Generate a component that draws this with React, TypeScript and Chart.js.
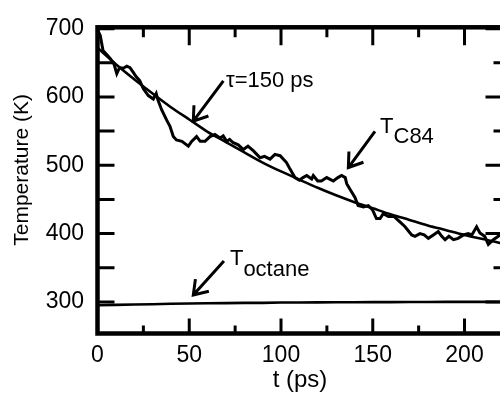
import React, { useEffect, useRef } from "react";
import { Chart, registerables } from "chart.js";

Chart.register(...registerables);

// T_C84 (noisy simulation trace)
const c84Time = [0, 1.5, 3, 5, 7, 9, 10.5, 12, 14, 16, 17.7, 19.5, 21, 23, 25, 27.7, 30.4, 32, 33, 35, 37.7, 39.5, 41.3, 43, 46, 49.5, 51.3, 54, 56, 58.6, 61.3, 64, 66.8, 68.5, 70.4, 72, 74, 76.7, 79.5, 82, 85, 88.6, 91, 94, 96.7, 99.5, 103, 105, 107.6, 110, 112, 114, 116.7, 117.6, 120, 122, 124.9, 128.5, 131, 133, 135, 135.8, 137.6, 138.5, 140.3, 142, 144.9, 147.6, 150, 152, 154, 155.7, 158.5, 161.5, 164.8, 167.6, 171.2, 173, 175.7, 178, 180.3, 183, 185.7, 187.6, 189.4, 191.5, 194, 196.5, 199.4, 202, 204, 206.6, 208.4, 211, 213, 215.7, 218.4, 221];
const c84Temp = [698, 690, 668, 662, 656, 648, 634, 643, 642, 645, 643, 636, 630, 624, 612, 602, 597, 605, 595, 581, 566, 557, 542, 537, 535, 528, 535, 542, 535, 535, 542, 545, 540, 543, 535, 538, 533, 530, 523, 528, 521, 511, 513, 509, 516, 514, 504, 494, 482, 478, 482, 485, 480, 485, 477, 477, 482, 477, 482, 485, 482, 473, 465, 461, 453, 441, 439, 441, 434, 422, 422, 429, 425, 425, 417, 410, 398, 396, 400, 398, 393, 398, 403, 396, 391, 396, 391, 393, 398, 400, 398, 410, 401, 396, 384, 391, 396, 400];

// exponential fit, tau = 150 ps
const fitTime = [0, 10, 20, 30, 40, 50, 60, 70, 80, 90, 100, 110, 120, 130, 140, 150, 160, 170, 180, 190, 200, 210, 220, 221];
const fitTemp = [672, 648, 626, 605, 585, 567, 549, 534, 519, 504, 491, 479, 467, 456, 446, 437, 428, 420, 412, 405, 398, 392, 386, 385.5];

// T_octane
const octaneTime = [0, 10, 20, 30, 40, 50, 60, 70, 80, 90, 100, 110, 120, 130, 140, 150, 160, 170, 180, 190, 200, 210, 221];
const octaneTemp = [295, 295.6, 296.2, 296.6, 297.2, 297.6, 298, 298.2, 298.6, 298.6, 299, 299, 299.2, 299.4, 299.4, 299.6, 299.6, 299.8, 299.8, 300, 300, 300, 300];

const xTickValues = [0, 50, 100, 150, 200];
const xMinorValues = [25, 75, 125, 175];
const yTickValues = [300, 400, 500, 600, 700];
const yMinorValues = [350, 450, 550, 650];

const FONT = '"Liberation Sans", Arial, Helvetica, sans-serif';

function pts(xs: number[], ys: number[]) {
  return xs.map((x, i) => ({ x, y: ys[i] }));
}

export default function App() {
  const ref = useRef<HTMLCanvasElement>(null);

  useEffect(() => {
    const canvas = ref.current;
    if (!canvas) return;

    const framePlugin = {
      id: "frameAndNotes",
      afterDraw(chart: any) {
        const { ctx, chartArea: a, scales } = chart;
        const xs = scales.x;
        const ys = scales.y;
        ctx.save();
        ctx.strokeStyle = "#000";
        ctx.fillStyle = "#000";
        ctx.lineCap = "butt";

        // inward ticks
        ctx.lineWidth = 3;
        ctx.beginPath();
        const seg = (x1: number, y1: number, x2: number, y2: number) => {
          ctx.moveTo(x1, y1);
          ctx.lineTo(x2, y2);
        };
        xTickValues.forEach((v) => {
          const p = xs.getPixelForValue(v);
          seg(p, a.bottom, p, a.bottom - 15);
          seg(p, a.top, p, a.top + 18);
        });
        xMinorValues.forEach((v) => {
          const p = xs.getPixelForValue(v);
          seg(p, a.bottom, p, a.bottom - 8);
          seg(p, a.top, p, a.top + 10);
        });
        yTickValues.forEach((v) => {
          const p = ys.getPixelForValue(v);
          seg(a.left, p, a.left + 17, p);
          seg(a.right, p, a.right - 17, p);
        });
        yMinorValues.forEach((v) => {
          const p = ys.getPixelForValue(v);
          seg(a.left, p, a.left + 17, p);
          seg(a.right, p, a.right - 9, p);
        });
        ctx.stroke();

        // frame
        ctx.lineWidth = 4.5;
        ctx.strokeRect(a.left, a.top, a.right - a.left, a.bottom - a.top);

        // arrows
        const arrow = (t0: number, T0: number, t1: number, T1: number) => {
          const x0 = xs.getPixelForValue(t0);
          const y0 = ys.getPixelForValue(T0);
          const x1 = xs.getPixelForValue(t1);
          const y1 = ys.getPixelForValue(T1);
          const ang = Math.atan2(y0 - y1, x0 - x1);
          const L = 16;
          const spread = 0.6;
          ctx.lineWidth = 3;
          ctx.beginPath();
          ctx.moveTo(x0, y0);
          ctx.lineTo(x1, y1);
          ctx.moveTo(x1 + L * Math.cos(ang - spread), y1 + L * Math.sin(ang - spread));
          ctx.lineTo(x1, y1);
          ctx.lineTo(x1 + L * Math.cos(ang + spread), y1 + L * Math.sin(ang + spread));
          ctx.stroke();
        };
        arrow(68.6, 623.5, 52.2, 564.5);
        arrow(151.2, 549.6, 136.7, 496.7);
        arrow(68.9, 359.8, 52.2, 310.1);

        // annotation text
        ctx.font = `22px ${FONT}`;
        ctx.textAlign = "left";
        ctx.textBaseline = "alphabetic";
        const text = (s: string, t: number, T: number) => {
          ctx.fillText(s, xs.getPixelForValue(t), ys.getPixelForValue(T));
        };
        text("\u03c4=150 ps", 70, 614.4);
        text("T", 154, 547);
        text("C84", 161.3, 532.7);
        text("T", 72.2, 354);
        text("octane", 79.5, 337.5);

        // y axis title
        ctx.font = `21px ${FONT}`;
        ctx.textAlign = "center";
        ctx.textBaseline = "middle";
        ctx.translate(22, (a.top + a.bottom) / 2 - 10.5);
        ctx.rotate(-Math.PI / 2);
        ctx.fillText("Temperature (K)", 0, 0);
        ctx.restore();
      },
    };

    const chart = new Chart(canvas, {
      type: "line",
      data: {
        datasets: [
          {
            label: "T_C84",
            data: pts(c84Time, c84Temp),
            borderColor: "#000",
            borderWidth: 3,
            pointRadius: 0,
            tension: 0,
          },
          {
            label: "fit",
            data: pts(fitTime, fitTemp),
            borderColor: "#000",
            borderWidth: 2.6,
            pointRadius: 0,
            cubicInterpolationMode: "monotone",
          },
          {
            label: "T_octane",
            data: pts(octaneTime, octaneTemp),
            borderColor: "#000",
            borderWidth: 2.6,
            pointRadius: 0,
            tension: 0,
          },
        ],
      },
      options: {
        animation: false,
        responsive: false,
        devicePixelRatio: 1,
        layout: { padding: { left: 0, top: 22.5, right: 3.5, bottom: 0 } },
        plugins: { legend: { display: false }, tooltip: { enabled: false } },
        scales: {
          x: {
            type: "linear",
            min: 0,
            max: 220.7,
            grid: { display: false, drawTicks: false },
            border: { display: false },
            ticks: {
              font: { family: FONT, size: 23 },
              color: "#000",
              padding: 8,
              maxRotation: 0,
              autoSkip: false,
            },
            title: {
              display: true,
              text: "t (ps)",
              font: { family: FONT, size: 24 },
              color: "#000",
              padding: { top: 0, bottom: 2 },
            },
            afterBuildTicks: (s: any) => {
              s.ticks = xTickValues.map((v) => ({ value: v }));
            },
            afterFit: (s: any) => {
              s.height = 63.5;
            },
          },
          y: {
            type: "linear",
            min: 253.7,
            max: 702,
            grid: { display: false, drawTicks: false },
            border: { display: false },
            ticks: {
              font: { family: FONT, size: 23 },
              color: "#000",
              padding: 13.5,
              autoSkip: false,
            },
            title: { display: false },
            afterBuildTicks: (s: any) => {
              s.ticks = yTickValues.map((v) => ({ value: v }));
            },
            afterFit: (s: any) => {
              s.width = 97.5;
            },
          },
        },
      },
      plugins: [framePlugin],
    });

    return () => chart.destroy();
  }, []);

  return (
    <div
      style={{
        position: "fixed",
        left: 0,
        top: 0,
        width: 500,
        height: 397,
        overflow: "hidden",
        background: "#fff",
      }}
    >
      <canvas ref={ref} width={506} height={397} style={{ display: "block", width: 506, height: 397 }} />
    </div>
  );
}
